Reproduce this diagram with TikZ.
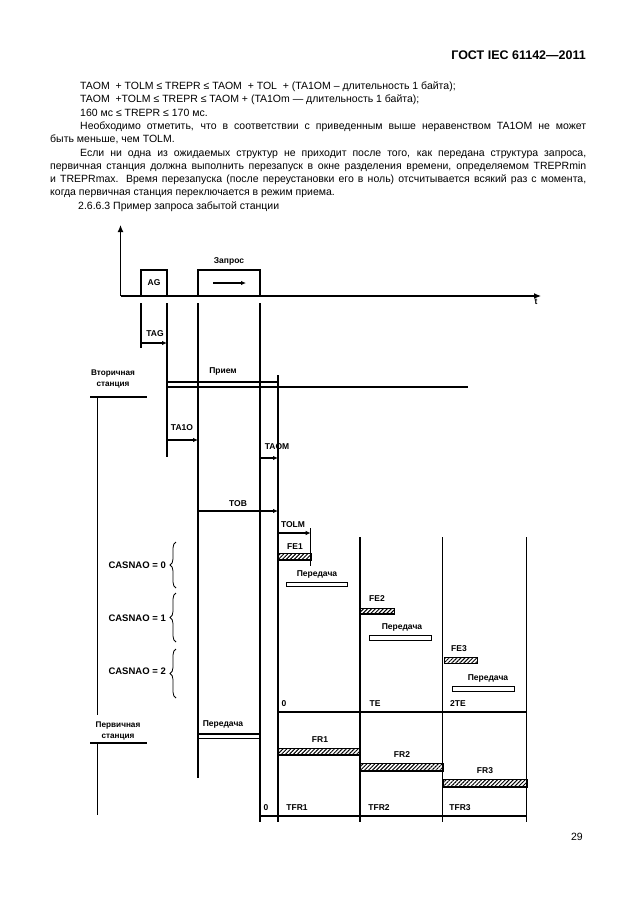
\documentclass[tikz,border=0pt]{standalone}
\usepackage{fontspec}
\setmainfont{Liberation Sans}
\usetikzlibrary{arrows.meta, positioning, patterns.meta, decorations.pathreplacing}

\newcommand{\jline}[2]{\makebox[#1][s]{#2}}

\begin{document}
\begin{tikzpicture}[
    x=1pt, y=-1pt,
    body/.style={anchor=base west, inner sep=0pt, font=\fontsize{10.5}{13.3}\selectfont},
    lbl/.style={inner sep=0pt, font=\fontsize{8.5}{9}\selectfont\bfseries},
    caslbl/.style={lbl, anchor=east, font=\fontsize{9.5}{10}\selectfont\bfseries},
    stlbl/.style={lbl, align=center, font=\fontsize{8.2}{11}\selectfont\bfseries},
    tl/.style={line width=1.2pt},
    arrow/.style={tl, -{Latex[length=5pt,width=4.5pt]}},
    axis/.style={tl, -{Latex[length=7pt,width=6pt]}},
    hatch/.style={pattern={Lines[angle=45,distance=2.8pt,line width=1pt]}},
    sendbox/.style={draw, line width=1pt, fill=white},
    brc/.style={decorate, decoration={brace, amplitude=6pt}, line width=0.8pt}
]
\useasboundingbox (0,0) rectangle (630,913);

% page text
\node[body, anchor=base east, font=\fontsize{12.5}{14}\selectfont\bfseries] (hdr) at (586,59) {ГОСТ IEC 61142—2011};
\node[body] (t1) at (80,89.5) {TAOM\ \ + TOLM ≤ TREPR ≤ TAOM\ \ + TOL\ \ + (TA1OM – длительность 1 байта);};
\node[body] (t2) at (80,102.8) {TAOM\ \ +TOLM ≤ TREPR ≤ TAOM + (TA1Om — длительность 1 байта);};
\node[body] (t3) at (80,116.1) {160 мс ≤ TREPR ≤ 170 мс.};
\node[body] (t4) at (80,129.4) {\jline{506pt}{Необходимо отметить, что в соответствии с приведенным выше неравенством TA1OM не может}};
\node[body] (t5) at (50,142.7) {быть меньше, чем TOLM.};
\node[body] (t6) at (80,156) {\jline{506pt}{Если ни одна из ожидаемых структур не приходит после того, как передана структура запроса,}};
\node[body] (t7) at (50,169.3) {\jline{536pt}{первичная станция должна выполнить перезапуск в окне разделения времени, определяемом TREPRmin}};
\node[body] (t8) at (50,182.6) {\jline{536pt}{и TREPRmax. Время перезапуска (после переустановки его в ноль) отсчитывается всякий раз с момента,}};
\node[body] (t9) at (50,195.9) {когда первичная станция переключается в режим приема.};
\node[body] (t10) at (78,209.2) {2.6.6.3 Пример запроса забытой станции};
\node[body, anchor=base east] (pg) at (583,840) {29};

% axes
\coordinate (org) at (120.5,296);
\coordinate (ytop) at (120.5,225);
\coordinate (xend) at (541,296);
\draw[axis] (org) -- (ytop);
\draw[axis] (org) -- (xend);
\node[inner sep=0pt, font=\fontsize{8.5}{9}\selectfont\bfseries] (t) at (536,302) {t};

% request frame on the line
\draw[tl] (141,296) -- (141,270) -- (167,270) -- (167,296);
\node[lbl] (ag) at (154,283) {AG};
\draw[tl] (198,296) -- (198,270) -- (260,270) -- (260,296);
\node[lbl] (zap) at (229,261) {Запрос};
\draw[arrow] (213,283) -- (246,283);

% time marks
\draw[tl] (141,303) -- (141,348);
\draw[tl] (167,303) -- (167,457);
\draw[tl] (198,303) -- (198,778);
\draw[tl] (260,303) -- (260,822);
\draw[tl] (278,375) -- (278,822);
\draw[tl] (310.7,528) -- (310.7,566);
\foreach \x in {360,442.7,526.7}
    \draw[tl] (\x,537) -- (\x,822);

% secondary station
\node[stlbl] (sec) at (113,378.5) {Вторичная\\станция};
\draw[tl] (90,397) -- (147,397);
\draw[tl] (97.7,397) -- (97.7,715);
\node[lbl] (rcv) at (223,371) {Прием};
\draw[tl] (167,382) -- (278,382);
\draw[tl] (167,387) -- (468,387);

% timers
\draw[arrow] (141,343) -- (167,343);
\node[lbl] (tag) at (155,334) {TAG};
\draw[arrow] (167,440) -- (198,440);
\node[lbl] (ta1o) at (182,428) {TA1O};
\draw[arrow] (260,458) -- (278,458);
\node[lbl] (taom) at (277,447) {TAOM};
\draw[arrow] (198,511) -- (278,511);
\node[lbl] (tob) at (238,504) {TOB};
\draw[arrow] (278,533) -- (310.7,533);
\node[lbl] (tolm) at (293,525) {TOLM};

% answers of the secondary station
\draw[hatch] (278,553) rectangle (310.7,560);
\draw[tl] (278,560) -- (310.7,560);
\node[lbl] (fe1) at (295,546.5) {FE1};
\draw[sendbox] (286,582.3) rectangle (347.3,586.7);
\node[lbl] (s1) at (317,574.5) {Передача};

\draw[hatch] (360,608) rectangle (394,614);
\draw[tl] (360,614) -- (394,614);
\node[lbl] (fe2) at (377,599) {FE2};
\draw[sendbox] (369.3,635.7) rectangle (431,640);
\node[lbl] (s2) at (402,627.5) {Передача};

\draw[hatch] (444,657.5) rectangle (477,663.5);
\draw[tl] (444,663.5) -- (477,663.5);
\node[lbl] (fe3) at (459,649) {FE3};
\draw[sendbox] (452.7,686.7) rectangle (514.3,691.7);
\node[lbl] (s3) at (488,678) {Передача};

\node[lbl] (z1) at (284,704) {0};
\node[lbl] (te) at (375,703.5) {TE};
\node[lbl] (te2) at (458,703.5) {2TE};
\draw[tl] (278,712) -- (526.7,712);

% CASNAO
\node[caslbl] (c0) at (166,565) {CASNAO = 0};
\node[caslbl] (c1) at (166,618) {CASNAO = 1};
\node[caslbl] (c2) at (166,671) {CASNAO = 2};
\draw[brc] (176,588) -- (176,542);
\draw[brc] (176,642) -- (176,593);
\draw[brc] (176,698) -- (176,649);

% primary station
\node[stlbl] (prim) at (118,730.5) {Первичная\\станция};
\draw[tl] (90,743) -- (147,743);
\draw[tl] (97.7,743) -- (97.7,815);
\node[lbl] (snd) at (223,724.5) {Передача};
\draw[tl] (198,734) -- (260,734);
\draw[tl] (198,738.7) -- (260,738.7);

\draw[hatch] (278,748) rectangle (360,755);
\draw[tl] (278,755) -- (360,755);
\node[lbl] (fr1) at (320,740) {FR1};
\draw[hatch] (360,763) rectangle (442.7,771);
\draw[tl] (360,771) -- (442.7,771);
\node[lbl] (fr2) at (402,755) {FR2};
\draw[hatch] (442.7,779) rectangle (526.7,787);
\draw[tl] (442.7,787) -- (526.7,787);
\node[lbl] (fr3) at (485,771) {FR3};

\node[lbl] (z2) at (266,808) {0};
\node[lbl] (tfr1) at (297,808) {TFR1};
\node[lbl] (tfr2) at (379,808) {TFR2};
\node[lbl] (tfr3) at (460,808) {TFR3};
\draw[tl] (260,816) -- (526.7,816);

\end{tikzpicture}
\end{document}
